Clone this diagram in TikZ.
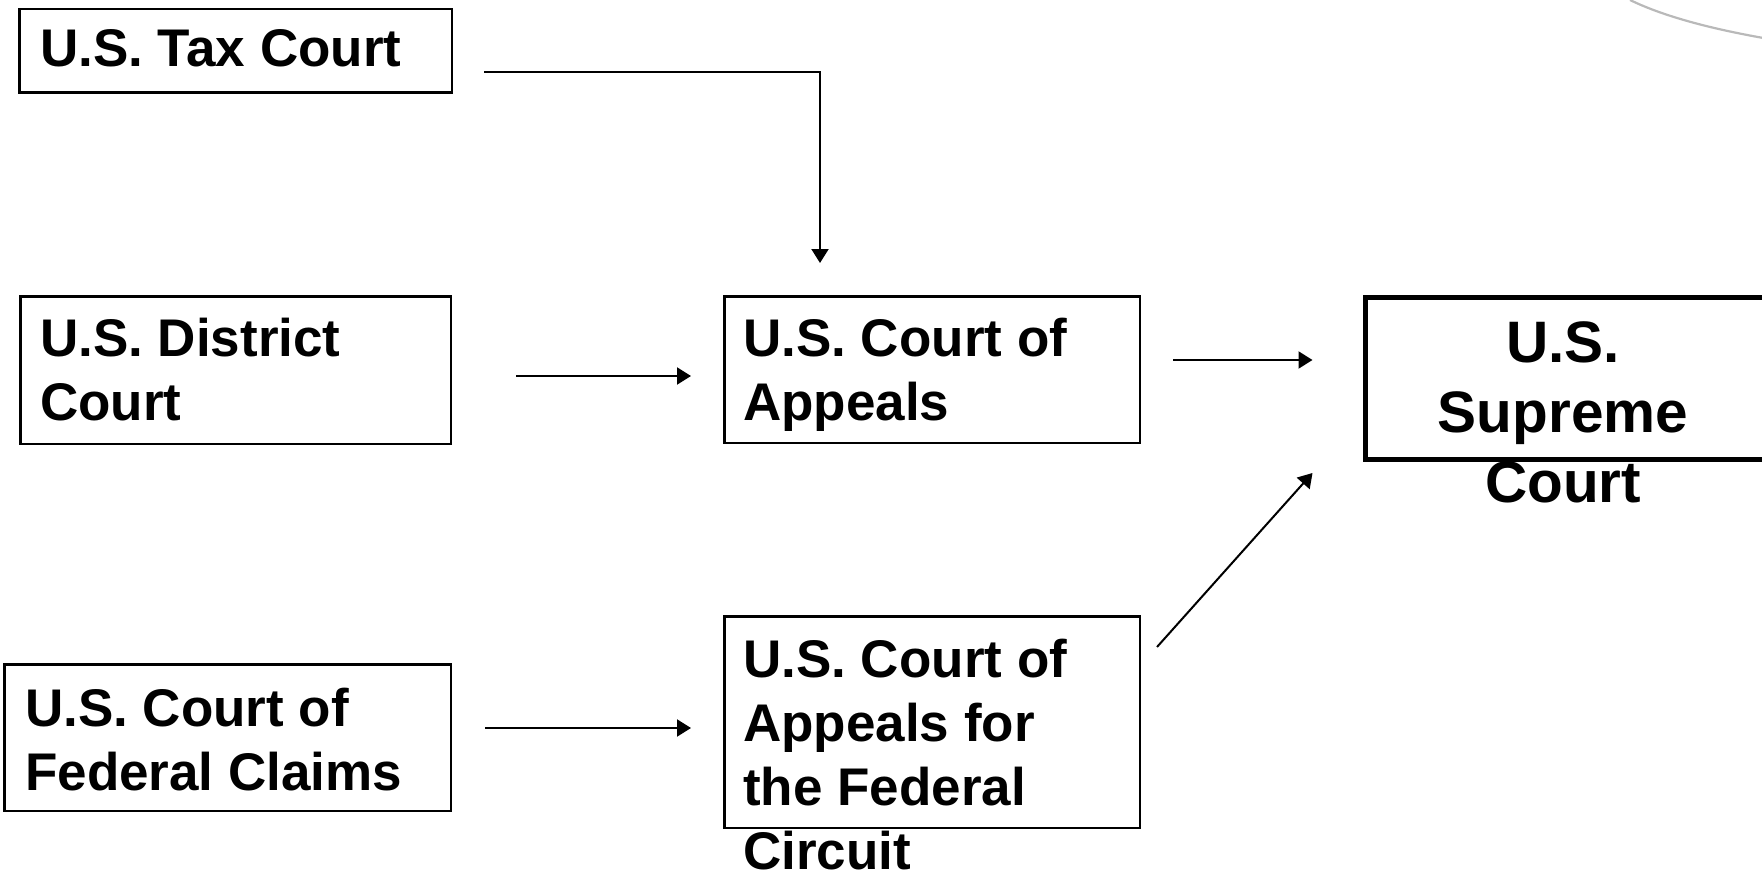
\documentclass[tikz,border=0pt]{standalone}
\usepackage{fontspec}
\setmainfont{Liberation Sans}
\usetikzlibrary{arrows.meta}
\definecolor{arcgray}{RGB}{185,185,185}
\newcommand{\mylinesL}[1]{\begin{tabular}[t]{@{}l@{}}#1\end{tabular}}
\newcommand{\mylinesC}[1]{\begin{tabular}[t]{@{}c@{}}#1\end{tabular}}
\tikzset{
  box/.style={draw=black, line width=2.5pt, inner sep=0pt},
  bigbox/.style={draw=black, line width=5pt, inner sep=0pt},
  lbl/.style={inner sep=0pt, font=\fontsize{53}{64}\selectfont\bfseries},
  suplbl/.style={inner sep=0pt, font=\fontsize{58.5}{70}\selectfont\bfseries},
  arr/.style={line width=2pt, -{Triangle[width=17pt,length=14pt]}},
  deco/.style={draw=arcgray, line width=2.2pt},
}
\begin{document}
\begin{tikzpicture}[x=1pt,y=-1pt]
\useasboundingbox (0,0) rectangle (1762,872);
% decorative arc
\draw[deco] (1630,0) .. controls (1665,17) and (1715,30) .. (1775,40);
% boxes
\node[box, minimum width=432.5pt, minimum height=83.5pt] (tax) at (235.5,51) {};
\node[box, minimum width=430.5pt, minimum height=147.5pt] (district) at (235.5,370) {};
\node[box, minimum width=446.5pt, minimum height=146.5pt] (claims) at (227.5,737.5) {};
\node[box, minimum width=415.5pt, minimum height=146.5pt] (appeals) at (932,369.5) {};
\node[box, minimum width=415.5pt, minimum height=211.5pt] (cafc) at (932,722) {};
\node[bigbox, minimum width=398.5pt, minimum height=162pt] (supreme) at (1564.75,378.5) {};
% labels
\node[lbl, anchor=base west] (taxtxt) at (40,67) {\mylinesL{U.S. Tax Court}};
\node[lbl, anchor=base west] (districttxt) at (40,356) {\mylinesL{U.S. District\\Court}};
\node[lbl, anchor=base west] (appealstxt) at (743,356) {\mylinesL{U.S. Court of\\Appeals}};
\node[lbl, anchor=base west] (claimstxt) at (25,726) {\mylinesL{U.S. Court of\\Federal Claims}};
\node[lbl, anchor=base west] (cafctxt) at (743,677) {\mylinesL{U.S. Court of\\Appeals for\\the Federal\\Circuit}};
\node[suplbl, anchor=base] (supremetxt) at (1563,362) {\mylinesC{U.S.\\Supreme\\Court}};
% connectors
\draw[arr] ([shift={(31,21)}]tax.east) -| ([shift={(-112,-32)}]appeals.north);
\draw[arr] ([shift={(64,6)}]district.east) -- ([shift={(-32,6.5)}]appeals.west);
\draw[arr] ([shift={(32,-9.5)}]appeals.east) -- ([shift={(-50.5,-18.5)}]supreme.west);
\draw[arr] ([shift={(33,-9.5)}]claims.east) -- ([shift={(-32,6)}]cafc.west);
\draw[arr] ([shift={(16,-75)}]cafc.east) -- ([shift={(-50.5,94.5)}]supreme.west);
\end{tikzpicture}
\end{document}
